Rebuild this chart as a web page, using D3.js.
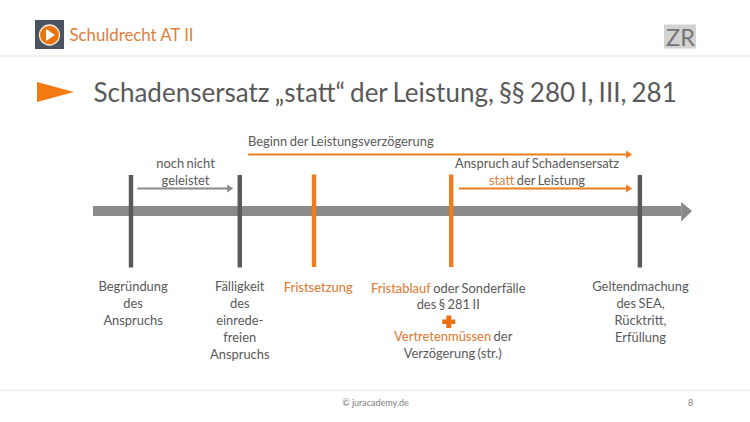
<!DOCTYPE html>
<html><head><meta charset="utf-8">
<script src="https://cdnjs.cloudflare.com/ajax/libs/d3/7.8.5/d3.min.js"></script>
<style>html,body{margin:0;padding:0;background:#fff}svg{display:block}text{font-family:Lato,"Open Sans",sans-serif}</style>
</head><body><svg id="c" width="750" height="422"></svg>
<script>
const ORANGE="#ed7d1f", ORANGE_TXT="#dd803a", DARK="#595959", TXT="#595959", GREY="#8a8a8a";
const eventPositions=[6.34,24.5,36.9,59.8,91.3];
const eventColors=[DARK,DARK,ORANGE,ORANGE,DARK];
const eventLabels=[
 [[["Begründung",0]],[["des",0]],[["Anspruchs",0]]],
 [[["Fälligkeit",0]],[["des",0]],[["einrede-",0]],[["freien",0]],[["Anspruchs",0]]],
 [[["Fristsetzung",1]]],
 [[["Fristablauf",1],[" oder Sonderfälle",0]],[["des § 281 II",0]],[["",0]],[["Vertretenmüssen",1],[" der",0]],[["Verzögerung (str.)",0]]],
 [[["Geltendmachung",0]],[["des SEA,",0]],[["Rücktritt,",0]],[["Erfüllung",0]]]
];
const labelCenters=[6.7,24.5,37.6,59.3,91.4];
const lineNudgeX=[[0,0,0],[0,0,0,0,0],[0],[0,0,0,5,4.5],[0,0,0,0]];
const lineNudgeY=[[0,0,0],[0,0,0,0,0],[1],[1.5,1,0,-1,-1],[0,0,0,-0.5]];
const spans=[
 {from:25.9,to:90,row:0,color:ORANGE,w:2.2},
 {from:7.4,to:23.4,row:1,color:GREY,w:2},
 {from:61.1,to:90,row:1,color:ORANGE,w:2}
];
const x=d3.scaleLinear().domain([0,100]).range([93,692]);
const rowY=d3.scalePoint().domain([0,1]).range([154.5,188.5]);
const svg=d3.select("#c");
const line=(x1,y,x2,c,w)=>svg.append("line").attr("x1",x1).attr("x2",x2).attr("y1",y).attr("y2",y).attr("stroke",c).attr("stroke-width",w);
const txt=(t,xx,y,size,c,anchor)=>svg.append("text").text(t).attr("x",xx).attr("y",y).attr("font-size",size).attr("fill",c).attr("text-anchor",anchor||"middle");
const body=(t,xx,y,anchor)=>txt(t,xx,y,12.9,TXT,anchor).attr("word-spacing",-0.8);

// header / footer
line(0,56,750,"#ececec",1.5);
line(0,390.5,750,"#ececec",1.5);
svg.append("rect").attr("x",35).attr("y",20).attr("width",29).attr("height",29).attr("fill","#4a5460");
svg.append("circle").attr("cx",49.5).attr("cy",35).attr("r",10).attr("fill","#e8730f").attr("stroke","#fbe9d9").attr("stroke-width",1.3);
svg.append("path").attr("d",d3.line()([[46,29],[46,41],[55,35]])).attr("fill","#fff");
txt("Schuldrecht AT II",69.5,41,16.8,ORANGE_TXT,"start");
svg.append("rect").attr("x",664).attr("y",24.5).attr("width",32).attr("height",24).attr("fill","#d2d2d2");
txt("ZR",680.5,45.5,23.5,"#757575");
svg.append("path").attr("d",d3.line()([[37,82],[74,92],[37,102]])).attr("fill","#f57a10");
txt("Schadensersatz „statt“ der Leistung, §§ 280 I, III, 281",93.5,102,26,"#595959","start").attr("word-spacing",-1.5);

// timeline
svg.append("rect").attr("x",x(0)).attr("y",206).attr("width",x(98.2)-x(0)).attr("height",10).attr("fill",GREY);
svg.append("path").attr("d",d3.line()([[x(98.2),202],[x(100),211],[x(98.2),221.5]])).attr("fill",GREY);

// event marks
svg.selectAll("rect.ev").data(eventPositions).join("rect").attr("class","ev")
 .attr("x",d=>x(d)-2.2).attr("width",4.4).attr("y",(d,i)=>eventColors[i]===ORANGE?174.5:175).attr("height",92.5)
 .attr("fill",(d,i)=>eventColors[i]);

// span arrows
spans.forEach(s=>{
 const y=rowY(s.row), end=x(s.to);
 line(x(s.from),y,end-4,s.color,s.w);
 svg.append("path").attr("d",d3.line()([[end-6,y-4],[end,y],[end-6,y+4]])).attr("fill",s.color);
});

// upper labels
body("Beginn der Leistungsverzögerung",248,145.5,"start");
body("noch nicht",185.5,168);
body("geleistet",185.5,185);
body("Anspruch auf Schadensersatz",537,168);
const st=body("",537,185);
st.append("tspan").text("statt").attr("fill",ORANGE_TXT);
st.append("tspan").text(" der Leistung");

// lower labels
eventLabels.forEach((lines,i)=>{
 lines.forEach((parts,j)=>{
  const t=body("",x(labelCenters[i])+lineNudgeX[i][j],291+j*17.1+lineNudgeY[i][j]);
  parts.forEach(([s,hi])=>t.append("tspan").text(s).attr("fill",hi?ORANGE_TXT:TXT).attr("font-weight",hi?500:400));
 });
});
// plus sign
svg.append("path").attr("d","M446.3 315.5h5v4h4v4.6h-4v4h-5v-4h-4v-4.6h4z").attr("fill","#ed7014");

// footer
txt("© juracademy.de",375.5,405.5,9,"#808080");
txt("8",690.5,405.5,9,"#808080");
</script></body></html>
